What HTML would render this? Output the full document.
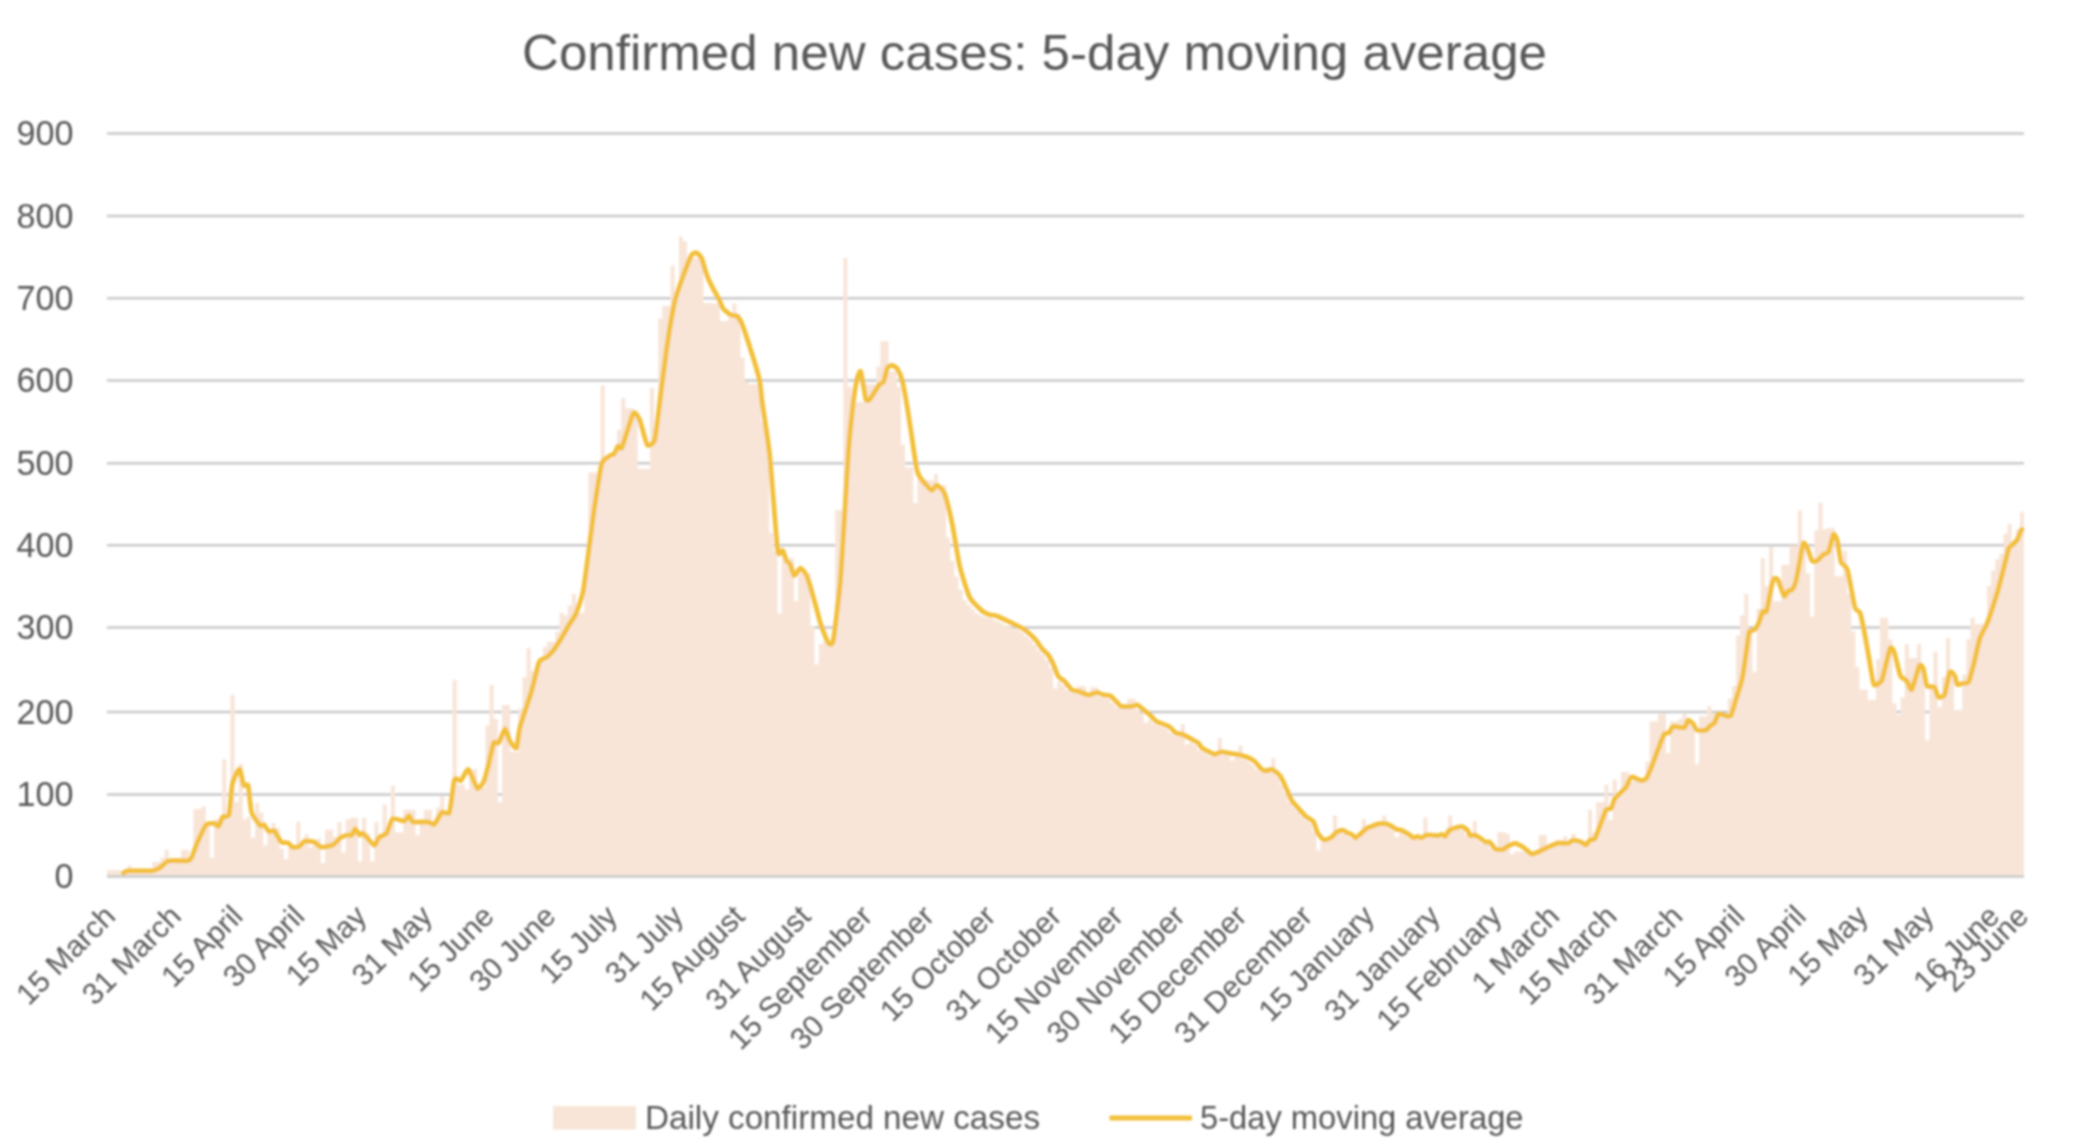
<!DOCTYPE html><html><head><meta charset="utf-8"><style>html,body{margin:0;padding:0;background:#fff;width:2076px;height:1148px;overflow:hidden}svg{display:block}text{font-family:"Liberation Sans",sans-serif;fill:#595959}</style></head><body>
<svg width="2076" height="1148" viewBox="0 0 2076 1148">
<rect width="2076" height="1148" fill="#fff"/>
<defs><filter id="blurf" x="-1%" y="-1%" width="102%" height="102%"><feGaussianBlur stdDeviation="1.0"/></filter></defs><g filter="url(#blurf)">
<line x1="107.0" y1="794.60" x2="2024.0" y2="794.60" stroke="#C9C9C9" stroke-width="2.5"/>
<line x1="107.0" y1="712.00" x2="2024.0" y2="712.00" stroke="#C9C9C9" stroke-width="2.5"/>
<line x1="107.0" y1="627.60" x2="2024.0" y2="627.60" stroke="#C9C9C9" stroke-width="2.5"/>
<line x1="107.0" y1="545.20" x2="2024.0" y2="545.20" stroke="#C9C9C9" stroke-width="2.5"/>
<line x1="107.0" y1="463.20" x2="2024.0" y2="463.20" stroke="#C9C9C9" stroke-width="2.5"/>
<line x1="107.0" y1="380.40" x2="2024.0" y2="380.40" stroke="#C9C9C9" stroke-width="2.5"/>
<line x1="107.0" y1="298.30" x2="2024.0" y2="298.30" stroke="#C9C9C9" stroke-width="2.5"/>
<line x1="107.0" y1="216.00" x2="2024.0" y2="216.00" stroke="#C9C9C9" stroke-width="2.5"/>
<line x1="107.0" y1="133.50" x2="2024.0" y2="133.50" stroke="#C9C9C9" stroke-width="2.5"/>
<path d="M107.00 876.60 L107.00 870.24 L111.11 870.24 L111.11 870.24 L115.23 870.24 L115.23 870.24 L119.34 870.24 L119.34 870.24 L123.45 870.24 L123.45 870.77 L127.57 870.77 L127.57 865.54 L131.68 865.54 L131.68 869.02 L135.80 869.02 L135.80 869.02 L139.91 869.02 L139.91 869.02 L144.02 869.02 L144.02 869.02 L148.14 869.02 L148.14 869.02 L152.25 869.02 L152.25 862.06 L156.36 862.06 L156.36 862.06 L160.48 862.06 L160.48 857.70 L164.59 857.70 L164.59 849.86 L168.71 849.86 L168.71 861.18 L172.82 861.18 L172.82 861.18 L176.93 861.18 L176.93 861.18 L181.05 861.18 L181.05 849.86 L185.16 849.86 L185.16 849.86 L189.27 849.86 L189.27 859.44 L193.39 859.44 L193.39 808.92 L197.50 808.92 L197.50 808.92 L201.62 808.92 L201.62 806.31 L205.73 806.31 L205.73 824.60 L209.84 824.60 L209.84 857.70 L213.96 857.70 L213.96 819.37 L218.07 819.37 L218.07 819.37 L222.18 819.37 L222.18 759.27 L226.30 759.27 L226.30 819.37 L230.41 819.37 L230.41 694.81 L234.53 694.81 L234.53 801.95 L238.64 801.95 L238.64 763.62 L242.75 763.62 L242.75 819.37 L246.87 819.37 L246.87 816.76 L250.98 816.76 L250.98 837.67 L255.09 837.67 L255.09 802.82 L259.21 802.82 L259.21 812.40 L263.32 812.40 L263.32 845.51 L267.44 845.51 L267.44 831.48 L271.55 831.48 L271.55 822.86 L275.66 822.86 L275.66 828.08 L279.78 828.08 L279.78 848.99 L283.89 848.99 L283.89 859.44 L288.00 859.44 L288.00 847.25 L292.12 847.25 L292.12 847.25 L296.23 847.25 L296.23 821.99 L300.35 821.99 L300.35 847.25 L304.46 847.25 L304.46 834.18 L308.57 834.18 L308.57 847.25 L312.69 847.25 L312.69 842.02 L316.80 842.02 L316.80 838.54 L320.91 838.54 L320.91 862.93 L325.03 862.93 L325.03 829.83 L329.14 829.83 L329.14 829.83 L333.26 829.83 L333.26 836.79 L337.37 836.79 L337.37 821.99 L341.48 821.99 L341.48 852.47 L345.60 852.47 L345.60 819.37 L349.71 819.37 L349.71 817.63 L353.82 817.63 L353.82 817.63 L357.94 817.63 L357.94 861.18 L362.05 861.18 L362.05 817.63 L366.17 817.63 L366.17 833.31 L370.28 833.31 L370.28 861.18 L374.39 861.18 L374.39 821.99 L378.51 821.99 L378.51 836.79 L382.62 836.79 L382.62 804.56 L386.73 804.56 L386.73 831.57 L390.85 831.57 L390.85 785.78 L394.96 785.78 L394.96 832.51 L399.08 832.51 L399.08 832.51 L403.19 832.51 L403.19 809.77 L407.30 809.77 L407.30 809.77 L411.42 809.77 L411.42 809.77 L415.53 809.77 L415.53 835.03 L419.64 835.03 L419.64 821.90 L423.76 821.90 L423.76 809.77 L427.87 809.77 L427.87 809.77 L431.98 809.77 L431.98 824.32 L436.10 824.32 L436.10 807.25 L440.21 807.25 L440.21 795.88 L444.33 795.88 L444.33 812.30 L448.44 812.30 L448.44 812.30 L452.55 812.30 L452.55 679.68 L456.67 679.68 L456.67 784.51 L460.78 784.51 L460.78 784.51 L464.89 784.51 L464.89 789.56 L469.01 789.56 L469.01 769.36 L473.12 769.36 L473.12 769.36 L477.24 769.36 L477.24 787.04 L481.35 787.04 L481.35 787.04 L485.46 787.04 L485.46 725.15 L489.58 725.15 L489.58 684.73 L493.69 684.73 L493.69 718.83 L497.80 718.83 L497.80 802.20 L501.92 802.20 L501.92 704.94 L506.03 704.94 L506.03 704.94 L510.15 704.94 L510.15 751.67 L514.26 751.67 L514.26 751.67 L518.37 751.67 L518.37 708.73 L522.49 708.73 L522.49 677.15 L526.60 677.15 L526.60 648.10 L530.71 648.10 L530.71 670.84 L534.83 670.84 L534.83 670.84 L538.94 670.84 L538.94 658.21 L543.06 658.21 L543.06 646.84 L547.17 646.84 L547.17 641.79 L551.28 641.79 L551.28 641.79 L555.40 641.79 L555.40 631.68 L559.51 631.68 L559.51 612.74 L563.62 612.74 L563.62 615.26 L567.74 615.26 L567.74 605.16 L571.85 605.16 L571.85 593.79 L575.97 593.79 L575.97 612.74 L580.08 612.74 L580.08 612.74 L584.19 612.74 L584.19 568.44 L588.31 568.44 L588.31 472.61 L592.42 472.61 L592.42 472.61 L596.53 472.61 L596.53 472.61 L600.65 472.61 L600.65 385.46 L604.76 385.46 L604.76 458.72 L608.88 458.72 L608.88 458.72 L612.99 458.72 L612.99 452.20 L617.10 452.20 L617.10 429.67 L621.22 429.67 L621.22 398.09 L625.33 398.09 L625.33 408.20 L629.44 408.20 L629.44 408.20 L633.56 408.20 L633.56 411.99 L637.67 411.99 L637.67 468.82 L641.79 468.82 L641.79 468.82 L645.90 468.82 L645.90 468.82 L650.01 468.82 L650.01 387.99 L654.13 387.99 L654.13 428.73 L658.24 428.73 L658.24 318.52 L662.35 318.52 L662.35 305.89 L666.47 305.89 L666.47 305.89 L670.58 305.89 L670.58 265.47 L674.70 265.47 L674.70 295.40 L678.81 295.40 L678.81 236.42 L682.92 236.42 L682.92 241.47 L687.04 241.47 L687.04 257.89 L691.15 257.89 L691.15 257.89 L695.26 257.89 L695.26 257.89 L699.38 257.89 L699.38 257.89 L703.49 257.89 L703.49 303.36 L707.61 303.36 L707.61 303.36 L711.72 303.36 L711.72 303.36 L715.83 303.36 L715.83 303.36 L719.95 303.36 L719.95 321.05 L724.06 321.05 L724.06 321.05 L728.17 321.05 L728.17 313.47 L732.29 313.47 L732.29 303.36 L736.40 303.36 L736.40 313.47 L740.52 313.47 L740.52 357.67 L744.63 357.67 L744.63 381.67 L748.74 381.67 L748.74 384.20 L752.86 384.20 L752.86 384.20 L756.97 384.20 L756.97 384.20 L761.08 384.20 L761.08 422.09 L765.20 422.09 L765.20 438.03 L769.31 438.03 L769.31 532.84 L773.42 532.84 L773.42 550.52 L777.54 550.52 L777.54 613.68 L781.65 613.68 L781.65 558.10 L785.77 558.10 L785.77 558.10 L789.88 558.10 L789.88 558.10 L793.99 558.10 L793.99 601.05 L798.11 601.05 L798.11 573.26 L802.22 573.26 L802.22 573.26 L806.33 573.26 L806.33 573.26 L810.45 573.26 L810.45 626.31 L814.56 626.31 L814.56 664.20 L818.68 664.20 L818.68 643.99 L822.79 643.99 L822.79 641.46 L826.90 641.46 L826.90 641.46 L831.02 641.46 L831.02 641.46 L835.13 641.46 L835.13 510.10 L839.24 510.10 L839.24 510.10 L843.36 510.10 L843.36 257.89 L847.47 257.89 L847.47 386.72 L851.59 386.72 L851.59 401.88 L855.70 401.88 L855.70 401.88 L859.81 401.88 L859.81 401.88 L863.93 401.88 L863.93 384.20 L868.04 384.20 L868.04 384.20 L872.15 384.20 L872.15 384.20 L876.27 384.20 L876.27 366.52 L880.38 366.52 L880.38 341.25 L884.50 341.25 L884.50 341.25 L888.61 341.25 L888.61 371.57 L892.72 371.57 L892.72 371.57 L896.84 371.57 L896.84 386.72 L900.95 386.72 L900.95 444.83 L905.06 444.83 L905.06 467.56 L909.18 467.56 L909.18 467.56 L913.29 467.56 L913.29 502.93 L917.41 502.93 L917.41 480.19 L921.52 480.19 L921.52 480.19 L925.63 480.19 L925.63 480.19 L929.75 480.19 L929.75 480.19 L933.86 480.19 L933.86 473.88 L937.97 473.88 L937.97 485.24 L942.09 485.24 L942.09 485.24 L946.20 485.24 L946.20 537.61 L950.32 537.61 L950.32 560.92 L954.43 560.92 L954.43 576.81 L958.54 576.81 L958.54 589.66 L962.66 589.66 L962.66 600.41 L966.77 600.41 L966.77 604.93 L970.88 604.93 L970.88 609.46 L975.00 609.46 L975.00 613.53 L979.11 613.53 L979.11 615.58 L983.23 615.58 L983.23 617.17 L987.34 617.17 L987.34 617.86 L991.45 617.86 L991.45 619.22 L995.57 619.22 L995.57 621.25 L999.68 621.25 L999.68 623.28 L1003.79 623.28 L1003.79 625.31 L1007.91 625.31 L1007.91 627.34 L1012.02 627.34 L1012.02 629.38 L1016.14 629.38 L1016.14 629.93 L1020.25 629.93 L1020.25 632.51 L1024.36 632.51 L1024.36 636.17 L1028.48 636.17 L1028.48 639.83 L1032.59 639.83 L1032.59 644.70 L1036.70 644.70 L1036.70 650.39 L1040.82 650.39 L1040.82 654.50 L1044.93 654.50 L1044.93 660.19 L1049.05 660.19 L1049.05 668.26 L1053.16 668.26 L1053.16 688.62 L1057.27 688.62 L1057.27 681.46 L1061.39 681.46 L1061.39 685.53 L1065.50 685.53 L1065.50 690.33 L1069.61 690.33 L1069.61 692.44 L1073.73 692.44 L1073.73 693.37 L1077.84 693.37 L1077.84 686.10 L1081.95 686.10 L1081.95 686.10 L1086.07 686.10 L1086.07 696.13 L1090.18 696.13 L1090.18 687.36 L1094.30 687.36 L1094.30 687.36 L1098.41 687.36 L1098.41 696.94 L1102.52 696.94 L1102.52 697.62 L1106.64 697.62 L1106.64 698.85 L1110.75 698.85 L1110.75 702.96 L1114.86 702.96 L1114.86 707.08 L1118.98 707.08 L1118.98 708.31 L1123.09 708.31 L1123.09 708.31 L1127.21 708.31 L1127.21 698.73 L1131.32 698.73 L1131.32 698.73 L1135.43 698.73 L1135.43 709.38 L1139.55 709.38 L1139.55 712.67 L1143.66 712.67 L1143.66 722.73 L1147.77 722.73 L1147.77 719.78 L1151.89 719.78 L1151.89 723.64 L1156.00 723.64 L1156.00 725.28 L1160.12 725.28 L1160.12 726.93 L1164.23 726.93 L1164.23 728.66 L1168.34 728.66 L1168.34 732.77 L1172.46 732.77 L1172.46 735.24 L1176.57 735.24 L1176.57 736.06 L1180.68 736.06 L1180.68 723.99 L1184.80 723.99 L1184.80 744.20 L1188.91 744.20 L1188.91 742.52 L1193.03 742.52 L1193.03 744.87 L1197.14 744.87 L1197.14 750.09 L1201.25 750.09 L1201.25 752.15 L1205.37 752.15 L1205.37 754.21 L1209.48 754.21 L1209.48 756.26 L1213.59 756.26 L1213.59 754.69 L1217.71 754.69 L1217.71 737.88 L1221.82 737.88 L1221.82 754.83 L1225.94 754.83 L1225.94 755.57 L1230.05 755.57 L1230.05 760.62 L1234.16 760.62 L1234.16 757.01 L1238.28 757.01 L1238.28 745.46 L1242.39 745.46 L1242.39 759.81 L1246.50 759.81 L1246.50 761.64 L1250.62 761.64 L1250.62 764.72 L1254.73 764.72 L1254.73 769.27 L1258.85 769.27 L1258.85 771.66 L1262.96 771.66 L1262.96 772.53 L1267.07 772.53 L1267.07 771.71 L1271.19 771.71 L1271.19 758.33 L1275.30 758.33 L1275.30 777.25 L1279.41 777.25 L1279.41 784.76 L1283.53 784.76 L1283.53 793.33 L1287.64 793.33 L1287.64 802.58 L1291.76 802.58 L1291.76 807.34 L1295.87 807.34 L1295.87 811.86 L1299.98 811.86 L1299.98 816.32 L1304.10 816.32 L1304.10 819.92 L1308.21 819.92 L1308.21 822.91 L1312.32 822.91 L1312.32 831.65 L1316.44 831.65 L1316.44 850.31 L1320.55 850.31 L1320.55 841.64 L1324.67 841.64 L1324.67 840.40 L1328.78 840.40 L1328.78 837.77 L1332.89 837.77 L1332.89 815.47 L1337.01 815.47 L1337.01 832.64 L1341.12 832.64 L1341.12 833.53 L1345.23 833.53 L1345.23 835.47 L1349.35 835.47 L1349.35 837.95 L1353.46 837.95 L1353.46 838.13 L1357.58 838.13 L1357.58 834.91 L1361.69 834.91 L1361.69 818.95 L1365.80 818.95 L1365.80 828.97 L1369.92 828.97 L1369.92 827.43 L1374.03 827.43 L1374.03 825.88 L1378.14 825.88 L1378.14 825.83 L1382.26 825.83 L1382.26 815.47 L1386.37 815.47 L1386.37 827.75 L1390.48 827.75 L1390.48 830.21 L1394.60 830.21 L1394.60 837.07 L1398.71 837.07 L1398.71 833.23 L1402.83 833.23 L1402.83 835.28 L1406.94 835.28 L1406.94 837.93 L1411.05 837.93 L1411.05 839.23 L1415.17 839.23 L1415.17 839.04 L1419.28 839.04 L1419.28 838.82 L1423.39 838.82 L1423.39 817.56 L1427.51 817.56 L1427.51 837.27 L1431.62 837.27 L1431.62 837.52 L1435.74 837.52 L1435.74 837.02 L1439.85 837.02 L1439.85 837.65 L1443.96 837.65 L1443.96 834.03 L1448.08 834.03 L1448.08 815.47 L1452.19 815.47 L1452.19 829.74 L1456.30 829.74 L1456.30 828.92 L1460.42 828.92 L1460.42 830.26 L1464.53 830.26 L1464.53 834.44 L1468.65 834.44 L1468.65 837.26 L1472.76 837.26 L1472.76 821.05 L1476.87 821.05 L1476.87 840.72 L1480.99 840.72 L1480.99 843.60 L1485.10 843.60 L1485.10 843.95 L1489.21 843.95 L1489.21 848.39 L1493.33 848.39 L1493.33 851.13 L1497.44 851.13 L1497.44 832.20 L1501.56 832.20 L1501.56 832.20 L1505.67 832.20 L1505.67 833.77 L1509.78 833.77 L1509.78 853.98 L1513.90 853.98 L1513.90 851.45 L1518.01 851.45 L1518.01 851.45 L1522.12 851.45 L1522.12 851.45 L1526.24 851.45 L1526.24 851.45 L1530.35 851.45 L1530.35 851.45 L1534.47 851.45 L1534.47 851.45 L1538.58 851.45 L1538.58 835.03 L1542.69 835.03 L1542.69 835.03 L1546.81 835.03 L1546.81 845.14 L1550.92 845.14 L1550.92 845.14 L1555.03 845.14 L1555.03 840.09 L1559.15 840.09 L1559.15 845.14 L1563.26 845.14 L1563.26 836.30 L1567.38 836.30 L1567.38 842.61 L1571.49 842.61 L1571.49 833.77 L1575.60 833.77 L1575.60 842.61 L1579.72 842.61 L1579.72 842.61 L1583.83 842.61 L1583.83 842.61 L1587.94 842.61 L1587.94 809.77 L1592.06 809.77 L1592.06 832.51 L1596.17 832.51 L1596.17 802.20 L1600.29 802.20 L1600.29 802.20 L1604.40 802.20 L1604.40 784.51 L1608.51 784.51 L1608.51 819.88 L1612.63 819.88 L1612.63 779.46 L1616.74 779.46 L1616.74 792.09 L1620.85 792.09 L1620.85 771.88 L1624.97 771.88 L1624.97 771.88 L1629.08 771.88 L1629.08 781.99 L1633.20 781.99 L1633.20 779.46 L1637.31 779.46 L1637.31 779.46 L1641.42 779.46 L1641.42 779.46 L1645.54 779.46 L1645.54 761.78 L1649.65 761.78 L1649.65 721.36 L1653.76 721.36 L1653.76 721.36 L1657.88 721.36 L1657.88 713.78 L1661.99 713.78 L1661.99 713.78 L1666.11 713.78 L1666.11 752.94 L1670.22 752.94 L1670.22 721.36 L1674.33 721.36 L1674.33 721.36 L1678.45 721.36 L1678.45 718.83 L1682.56 718.83 L1682.56 713.78 L1686.67 713.78 L1686.67 723.89 L1690.79 723.89 L1690.79 723.89 L1694.90 723.89 L1694.90 764.30 L1699.02 764.30 L1699.02 716.31 L1703.13 716.31 L1703.13 716.31 L1707.24 716.31 L1707.24 706.20 L1711.36 706.20 L1711.36 713.78 L1715.47 713.78 L1715.47 713.78 L1719.58 713.78 L1719.58 713.78 L1723.70 713.78 L1723.70 713.78 L1727.81 713.78 L1727.81 698.62 L1731.92 698.62 L1731.92 685.99 L1736.04 685.99 L1736.04 635.47 L1740.15 635.47 L1740.15 615.26 L1744.27 615.26 L1744.27 593.79 L1748.38 593.79 L1748.38 631.57 L1752.49 631.57 L1752.49 671.99 L1756.61 671.99 L1756.61 608.83 L1760.72 608.83 L1760.72 558.31 L1764.83 558.31 L1764.83 586.10 L1768.95 586.10 L1768.95 546.94 L1773.06 546.94 L1773.06 601.25 L1777.18 601.25 L1777.18 601.25 L1781.29 601.25 L1781.29 564.63 L1785.40 564.63 L1785.40 564.63 L1789.52 564.63 L1789.52 545.68 L1793.63 545.68 L1793.63 545.68 L1797.74 545.68 L1797.74 510.31 L1801.86 510.31 L1801.86 543.92 L1805.97 543.92 L1805.97 573.47 L1810.09 573.47 L1810.09 616.41 L1814.20 616.41 L1814.20 530.52 L1818.31 530.52 L1818.31 502.74 L1822.43 502.74 L1822.43 529.26 L1826.54 529.26 L1826.54 528.00 L1830.65 528.00 L1830.65 528.00 L1834.77 528.00 L1834.77 575.99 L1838.88 575.99 L1838.88 575.99 L1843.00 575.99 L1843.00 550.73 L1847.11 550.73 L1847.11 593.68 L1851.22 593.68 L1851.22 631.57 L1855.34 631.57 L1855.34 666.93 L1859.45 666.93 L1859.45 689.67 L1863.56 689.67 L1863.56 689.67 L1867.68 689.67 L1867.68 699.77 L1871.79 699.77 L1871.79 699.77 L1875.91 699.77 L1875.91 659.36 L1880.02 659.36 L1880.02 617.67 L1884.13 617.67 L1884.13 617.67 L1888.25 617.67 L1888.25 639.15 L1892.36 639.15 L1892.36 703.56 L1896.47 703.56 L1896.47 714.93 L1900.59 714.93 L1900.59 697.25 L1904.70 697.25 L1904.70 644.20 L1908.82 644.20 L1908.82 658.09 L1912.93 658.09 L1912.93 658.09 L1917.04 658.09 L1917.04 644.20 L1921.16 644.20 L1921.16 671.99 L1925.27 671.99 L1925.27 740.19 L1929.38 740.19 L1929.38 687.14 L1933.50 687.14 L1933.50 651.78 L1937.61 651.78 L1937.61 707.35 L1941.73 707.35 L1941.73 677.04 L1945.84 677.04 L1945.84 637.88 L1949.95 637.88 L1949.95 671.99 L1954.07 671.99 L1954.07 709.88 L1958.18 709.88 L1958.18 709.88 L1962.29 709.88 L1962.29 674.51 L1966.41 674.51 L1966.41 639.15 L1970.52 639.15 L1970.52 617.67 L1974.64 617.67 L1974.64 623.99 L1978.75 623.99 L1978.75 623.99 L1982.86 623.99 L1982.86 623.99 L1986.98 623.99 L1986.98 586.10 L1991.09 586.10 L1991.09 570.59 L1995.20 570.59 L1995.20 559.44 L1999.32 559.44 L1999.32 553.87 L2003.43 553.87 L2003.43 533.66 L2007.55 533.66 L2007.55 523.90 L2011.66 523.90 L2011.66 546.90 L2015.77 546.90 L2015.77 529.48 L2019.89 529.48 L2019.89 512.06 L2024.00 512.06 L2024.00 876.60 Z" fill="#F8E5D8"/>
<line x1="107.0" y1="876.60" x2="2024.0" y2="876.60" stroke="#C9C9C9" stroke-width="2.5"/>
<path d="M123.5 873.0 C123.9 872.8 125.3 871.0 127.9 870.8 C130.5 870.6 149.4 871.0 152.3 870.8 C155.1 870.5 157.7 869.0 159.2 868.2 C160.7 867.3 166.3 861.5 168.8 860.8 C171.3 860.2 185.1 861.1 187.1 860.8 C189.1 860.6 190.5 859.4 191.5 857.7 C192.4 856.0 196.2 845.0 197.6 842.0 C198.9 839.0 204.7 826.2 206.3 824.6 C207.8 823.0 213.9 823.6 215.0 823.7 C216.1 823.9 217.8 827.0 218.5 826.3 C219.2 825.7 221.9 817.8 222.8 816.8 C223.8 815.7 228.1 818.0 228.9 815.0 C229.8 812.0 231.5 787.8 232.4 783.7 C233.3 779.5 238.4 768.7 239.4 768.9 C240.4 769.0 242.9 783.9 243.7 785.4 C244.5 786.9 247.4 783.0 248.1 785.4 C248.8 787.8 250.5 808.8 251.6 812.4 C252.7 816.0 259.2 824.4 260.3 825.5 C261.4 826.6 263.0 824.1 263.8 824.6 C264.5 825.1 268.0 831.0 269.0 831.6 C269.9 832.1 273.1 829.8 274.2 830.7 C275.3 831.6 279.9 840.9 281.2 842.0 C282.4 843.1 287.1 842.4 288.2 842.9 C289.2 843.4 291.5 846.9 292.5 847.2 C293.5 847.6 298.4 846.9 299.5 846.4 C300.6 845.8 303.4 841.5 304.7 841.1 C306.0 840.8 312.8 841.5 314.3 842.0 C315.8 842.6 319.5 847.0 321.3 847.2 C323.0 847.5 331.7 845.5 333.4 844.6 C335.2 843.8 339.2 838.5 340.4 837.7 C341.7 836.8 346.4 835.3 347.4 835.1 C348.4 834.8 351.0 835.6 351.7 835.1 C352.4 834.5 354.5 829.0 355.2 829.0 C355.9 829.0 358.9 834.7 359.6 835.1 C360.3 835.4 361.7 832.4 363.1 833.3 C364.4 834.3 373.0 845.1 374.4 845.5 C375.8 845.9 377.6 838.8 378.7 837.7 C379.8 836.6 385.3 835.0 386.6 833.3 C387.8 831.6 391.1 819.7 392.6 818.6 C394.2 817.5 402.5 821.4 404.0 821.1 C405.5 820.9 408.3 815.5 409.1 815.6 C409.8 815.7 411.1 821.3 412.8 821.9 C414.5 822.5 426.1 821.7 428.0 821.9 C429.9 822.1 433.1 825.3 434.3 824.4 C435.6 823.6 440.5 813.4 441.9 812.3 C443.3 811.2 448.3 815.3 449.5 812.3 C450.6 809.3 453.5 782.3 454.5 779.5 C455.5 776.6 459.6 781.6 460.8 780.7 C462.1 779.8 466.9 768.7 468.4 769.4 C469.9 770.0 475.9 787.2 477.3 788.3 C478.6 789.4 482.5 784.1 483.6 782.0 C484.6 779.8 487.7 767.8 488.6 764.3 C489.5 760.8 492.8 744.8 493.7 742.8 C494.6 740.9 497.7 744.1 498.7 742.8 C499.8 741.6 504.0 729.1 505.0 728.9 C506.1 728.8 509.1 739.9 510.1 741.6 C511.1 743.3 515.5 749.2 516.4 747.9 C517.3 746.5 518.8 731.5 520.2 726.4 C521.6 721.3 529.9 696.8 531.6 691.0 C533.3 685.2 537.7 665.1 539.1 662.0 C540.6 658.9 546.4 657.7 548.0 656.2 C549.6 654.7 554.9 648.5 556.8 645.6 C558.8 642.7 567.8 626.9 569.5 624.1 C571.2 621.3 574.5 617.1 575.8 614.0 C577.0 610.9 581.7 599.4 583.4 590.0 C585.0 580.6 592.5 521.4 594.1 510.0 C595.8 498.6 600.3 468.6 601.7 463.8 C603.0 458.9 608.1 457.1 609.3 456.2 C610.4 455.3 613.5 454.6 614.3 453.7 C615.1 452.8 617.4 446.7 618.1 446.1 C618.8 445.5 620.5 450.3 621.9 447.4 C623.3 444.4 631.7 415.7 633.3 413.2 C634.8 410.7 638.3 416.7 639.6 419.6 C640.8 422.4 645.8 443.0 647.2 444.8 C648.5 446.6 653.5 444.5 654.7 439.8 C656.0 435.0 659.9 400.4 661.0 391.8 C662.2 383.1 666.1 352.0 667.4 343.8 C668.6 335.6 673.5 307.1 674.9 300.8 C676.4 294.6 682.3 278.4 683.8 274.3 C685.3 270.2 690.2 257.3 691.4 255.4 C692.5 253.4 695.5 252.6 696.4 252.8 C697.3 253.1 700.6 256.0 701.5 257.9 C702.4 259.8 705.6 271.8 706.5 274.3 C707.4 276.8 710.4 283.4 711.6 285.7 C712.7 288.0 718.1 297.5 719.1 299.6 C720.2 301.6 721.9 307.1 722.9 308.4 C724.0 309.8 729.3 314.0 730.5 314.7 C731.8 315.4 735.8 315.2 736.8 316.0 C737.9 316.8 740.5 320.2 741.9 323.6 C743.2 327.0 750.4 348.8 752.0 353.9 C753.6 359.0 758.7 376.1 759.6 380.4 C760.5 384.7 761.2 395.2 762.1 401.9 C763.0 408.6 768.3 441.6 769.7 454.9 C771.1 468.3 776.5 541.9 777.7 550.5 C778.9 559.1 781.9 549.6 782.7 550.5 C783.5 551.4 785.8 559.4 786.5 560.6 C787.2 561.9 789.6 563.1 790.3 564.4 C791.0 565.8 793.2 575.4 794.1 575.8 C795.0 576.1 799.3 568.2 800.4 568.2 C801.6 568.2 805.6 573.3 806.7 575.8 C807.9 578.3 811.8 591.7 813.0 596.0 C814.3 600.3 819.3 619.6 820.6 623.8 C822.0 628.0 827.1 641.2 828.2 642.7 C829.3 644.2 832.1 646.2 833.3 640.2 C834.4 634.2 839.5 592.5 840.8 575.8 C842.2 559.1 847.1 470.6 848.2 454.9 C849.3 439.3 852.5 408.7 853.3 401.9 C854.1 395.1 856.4 381.9 857.0 379.1 C857.7 376.4 860.0 369.7 860.8 371.6 C861.6 373.4 865.1 396.9 865.9 399.4 C866.7 401.9 868.9 400.0 869.7 399.4 C870.5 398.7 873.8 393.1 874.7 391.8 C875.6 390.4 879.0 385.1 879.8 384.2 C880.6 383.3 882.9 383.2 883.6 381.7 C884.3 380.2 886.6 369.3 887.4 367.8 C888.2 366.3 891.5 365.1 892.4 365.3 C893.3 365.4 896.6 367.6 897.5 369.0 C898.4 370.5 901.5 377.4 902.5 381.7 C903.5 386.0 907.6 409.3 908.8 417.0 C910.1 424.8 915.4 462.1 916.4 467.6 C917.4 473.0 918.8 475.6 920.2 477.7 C921.6 479.7 930.1 489.6 931.6 490.3 C933.0 491.0 935.5 485.0 936.6 485.2 C937.8 485.5 942.8 489.4 944.2 492.8 C945.6 496.2 950.6 516.2 952.0 522.7 C953.4 529.3 958.0 559.0 959.6 565.7 C961.2 572.4 967.6 593.2 969.7 597.3 C971.7 601.3 980.5 609.6 982.3 611.1 C984.1 612.7 988.5 614.5 989.9 614.9 C991.2 615.4 994.4 614.9 997.5 616.2 C1000.5 617.5 1020.5 627.2 1023.9 629.3 C1027.3 631.3 1033.7 637.7 1035.3 639.4 C1036.9 641.1 1040.4 646.8 1041.6 648.2 C1042.7 649.6 1046.9 653.2 1047.9 654.5 C1048.9 655.9 1052.0 661.4 1052.9 663.4 C1053.9 665.3 1057.0 674.4 1058.0 676.0 C1059.0 677.6 1063.1 679.8 1064.3 681.0 C1065.6 682.3 1070.6 689.0 1071.9 689.9 C1073.1 690.8 1076.7 690.7 1078.2 691.1 C1079.7 691.6 1086.6 694.8 1088.3 694.9 C1090.0 695.1 1095.8 692.4 1097.2 692.4 C1098.5 692.4 1102.2 694.6 1103.5 694.9 C1104.7 695.3 1109.5 695.2 1111.0 696.2 C1112.6 697.2 1119.3 705.4 1121.1 706.3 C1123.0 707.2 1129.8 706.4 1131.3 706.3 C1132.7 706.2 1136.4 704.7 1137.6 705.0 C1138.7 705.4 1142.7 709.2 1143.9 710.1 C1145.0 711.0 1149.1 714.1 1150.2 715.1 C1151.3 716.2 1154.8 720.4 1156.5 721.5 C1158.2 722.5 1167.4 725.5 1169.1 726.5 C1170.9 727.5 1174.3 732.1 1175.5 732.8 C1176.6 733.5 1180.5 733.6 1181.8 734.1 C1183.0 734.5 1187.9 737.1 1189.4 737.9 C1190.8 738.7 1197.1 742.0 1198.2 742.9 C1199.3 743.8 1200.5 747.0 1202.0 748.0 C1203.5 749.0 1212.9 754.0 1214.6 754.3 C1216.3 754.6 1219.3 751.8 1220.9 751.8 C1222.5 751.7 1230.4 753.5 1232.3 753.8 C1234.2 754.1 1240.5 755.0 1242.4 755.6 C1244.3 756.2 1252.1 759.4 1253.8 760.6 C1255.5 761.8 1260.1 767.9 1261.1 768.8 C1262.2 769.7 1264.3 770.8 1265.3 770.9 C1266.3 770.9 1271.0 769.0 1272.3 769.5 C1273.6 769.9 1278.7 774.1 1280.0 775.7 C1281.2 777.4 1285.2 786.0 1286.2 788.3 C1287.3 790.6 1290.8 799.1 1291.8 800.8 C1292.8 802.5 1296.1 805.7 1297.4 807.1 C1298.6 808.5 1304.3 814.9 1305.7 816.2 C1307.2 817.5 1312.3 820.2 1313.4 821.7 C1314.5 823.2 1316.7 831.3 1317.6 832.9 C1318.5 834.5 1322.7 839.4 1323.9 839.9 C1325.1 840.3 1329.7 838.5 1330.8 837.8 C1332.0 837.1 1335.3 832.9 1336.4 832.2 C1337.5 831.5 1341.7 830.0 1342.7 830.1 C1343.7 830.2 1346.7 832.5 1347.6 832.9 C1348.4 833.3 1351.1 833.8 1351.7 834.3 C1352.4 834.7 1354.5 837.8 1355.2 837.8 C1356.0 837.8 1359.0 835.2 1360.1 834.3 C1361.2 833.4 1365.9 828.8 1367.1 828.0 C1368.2 827.3 1371.6 826.3 1372.6 825.9 C1373.7 825.5 1377.0 824.0 1378.2 823.8 C1379.5 823.6 1385.3 823.6 1386.6 823.8 C1387.8 824.1 1391.3 826.1 1392.2 826.6 C1393.0 827.1 1395.6 829.1 1396.3 829.4 C1397.1 829.7 1399.5 829.7 1400.5 830.1 C1401.5 830.5 1406.3 832.9 1407.5 833.6 C1408.7 834.3 1412.9 837.5 1413.8 837.8 C1414.6 838.0 1416.6 836.4 1417.2 836.4 C1417.9 836.4 1420.6 837.9 1421.4 837.8 C1422.3 837.6 1425.5 835.2 1427.0 835.0 C1428.5 834.8 1436.8 835.7 1438.2 835.7 C1439.5 835.6 1441.0 834.2 1441.6 834.3 C1442.3 834.3 1444.4 836.8 1445.1 836.4 C1445.8 836.0 1448.4 830.9 1449.3 830.1 C1450.2 829.4 1453.7 828.3 1454.9 828.0 C1456.0 827.7 1460.7 826.4 1461.8 826.6 C1463.0 826.8 1466.7 829.3 1467.4 830.1 C1468.2 830.9 1469.6 835.2 1470.2 835.7 C1470.8 836.1 1473.6 834.9 1474.4 835.0 C1475.1 835.1 1477.6 836.4 1478.6 837.1 C1479.6 837.7 1484.5 841.5 1485.5 842.0 C1486.5 842.4 1488.8 841.3 1489.7 842.0 C1490.6 842.6 1494.2 848.2 1495.3 848.9 C1496.4 849.6 1501.0 849.9 1502.3 849.6 C1503.5 849.3 1507.7 846.2 1508.8 845.6 C1510.0 845.1 1513.8 843.2 1515.2 843.4 C1516.5 843.6 1522.5 846.7 1524.0 847.7 C1525.5 848.6 1530.1 853.7 1531.6 854.0 C1533.1 854.3 1539.1 851.5 1540.4 850.9 C1541.8 850.4 1545.1 848.4 1546.7 847.7 C1548.3 847.0 1556.2 843.5 1558.1 843.1 C1560.0 842.7 1566.8 843.6 1568.2 843.4 C1569.6 843.1 1572.1 840.2 1573.3 840.1 C1574.4 840.0 1579.7 841.4 1580.8 841.9 C1582.0 842.3 1585.1 845.3 1585.9 845.1 C1586.7 845.0 1588.9 840.7 1589.7 840.1 C1590.5 839.5 1593.8 840.1 1594.7 838.8 C1595.6 837.6 1598.8 828.8 1599.8 826.2 C1600.8 823.6 1605.1 811.4 1606.1 809.8 C1607.1 808.2 1610.4 809.5 1611.1 808.5 C1611.9 807.5 1613.8 800.1 1614.9 798.4 C1616.1 796.7 1622.8 790.6 1623.8 789.6 C1624.8 788.5 1625.6 788.2 1626.3 787.0 C1627.0 785.9 1630.0 777.5 1631.4 776.9 C1632.7 776.4 1640.1 780.6 1641.5 780.7 C1642.8 780.8 1645.6 779.4 1646.5 778.2 C1647.4 776.9 1650.4 769.7 1651.6 766.8 C1652.7 764.0 1658.0 749.6 1659.1 746.6 C1660.3 743.7 1663.3 735.2 1664.2 734.0 C1665.1 732.7 1668.5 733.4 1669.3 732.7 C1670.0 732.0 1671.7 726.9 1673.0 726.4 C1674.4 726.0 1683.0 728.2 1684.4 727.7 C1685.8 727.1 1687.4 720.4 1688.2 720.1 C1689.0 719.8 1692.5 723.0 1693.2 723.9 C1694.0 724.8 1695.9 729.6 1697.0 730.2 C1698.2 730.8 1704.7 730.5 1705.9 730.2 C1707.0 729.9 1708.9 727.1 1709.7 726.4 C1710.5 725.7 1713.9 723.8 1714.7 722.6 C1715.5 721.5 1717.4 714.3 1718.5 713.8 C1719.6 713.2 1726.2 716.2 1727.4 716.3 C1728.5 716.4 1730.3 716.6 1731.1 715.0 C1731.9 713.5 1735.2 702.0 1736.2 698.6 C1737.2 695.2 1741.4 682.9 1742.5 677.2 C1743.6 671.4 1748.1 638.3 1748.8 634.2 C1749.5 630.1 1749.5 632.0 1750.1 631.6 C1750.7 631.1 1754.4 629.8 1755.2 629.0 C1756.0 628.2 1758.3 624.3 1758.9 622.7 C1759.6 621.1 1762.1 612.4 1762.7 611.4 C1763.4 610.3 1765.7 613.6 1766.5 611.4 C1767.3 609.1 1770.9 589.1 1771.6 586.1 C1772.3 583.1 1773.5 579.1 1774.1 578.5 C1774.7 578.0 1777.0 578.2 1777.9 579.8 C1778.8 581.4 1783.3 595.2 1784.2 596.2 C1785.1 597.2 1787.3 591.7 1788.0 591.1 C1788.7 590.6 1791.1 590.7 1791.8 589.9 C1792.5 589.1 1794.9 584.7 1795.6 582.3 C1796.3 579.9 1798.7 566.9 1799.4 563.4 C1800.0 559.8 1802.5 544.6 1803.2 543.2 C1803.8 541.7 1806.1 545.4 1806.9 546.9 C1807.7 548.5 1811.1 559.6 1812.0 560.8 C1812.9 562.1 1816.0 561.4 1817.0 560.8 C1818.1 560.3 1822.3 555.3 1823.4 554.5 C1824.4 553.7 1827.5 553.8 1828.4 552.0 C1829.3 550.2 1832.7 535.3 1833.5 534.3 C1834.3 533.3 1836.6 538.1 1837.3 540.6 C1837.9 543.1 1840.1 559.5 1841.0 562.1 C1842.0 564.7 1846.1 565.6 1847.4 569.7 C1848.6 573.8 1853.8 603.7 1854.9 607.6 C1856.1 611.4 1859.2 610.7 1860.0 612.6 C1860.8 614.6 1863.0 625.1 1863.8 629.0 C1864.6 633.0 1867.9 651.8 1868.8 656.8 C1869.7 661.8 1872.7 682.5 1873.9 684.6 C1875.0 686.8 1880.4 682.4 1881.5 680.8 C1882.5 679.2 1884.5 669.9 1885.3 666.9 C1886.0 664.0 1889.5 649.4 1890.3 648.0 C1891.1 646.6 1893.2 649.3 1894.1 651.8 C1895.0 654.3 1899.3 673.2 1900.4 675.8 C1901.5 678.4 1905.7 679.6 1906.7 680.8 C1907.7 682.1 1910.6 691.0 1911.8 689.7 C1912.9 688.3 1918.3 667.6 1919.4 665.7 C1920.4 663.7 1922.5 666.4 1923.1 668.2 C1923.8 670.0 1925.9 684.2 1926.9 685.9 C1928.0 687.6 1933.5 686.1 1934.5 687.1 C1935.5 688.2 1937.4 696.6 1938.3 697.2 C1939.2 697.9 1943.6 697.0 1944.6 694.7 C1945.6 692.4 1948.8 673.7 1949.7 672.0 C1950.6 670.3 1954.0 674.6 1954.7 675.8 C1955.4 676.9 1956.6 683.9 1957.2 684.6 C1957.9 685.3 1961.3 683.6 1962.3 683.4 C1963.3 683.1 1967.6 683.8 1968.6 682.1 C1969.6 680.4 1972.6 668.4 1973.7 664.4 C1974.7 660.4 1978.8 641.4 1980.0 637.9 C1981.1 634.4 1985.3 627.4 1986.3 625.3 C1987.3 623.1 1989.6 616.8 1990.6 613.8 C1991.6 610.8 1996.4 595.4 1997.6 591.5 C1998.7 587.6 2002.1 574.5 2003.1 570.6 C2004.1 566.7 2008.0 550.6 2008.7 548.3 C2009.5 546.0 2010.7 546.3 2011.5 545.5 C2012.3 544.8 2016.2 541.3 2017.1 539.9 C2018.0 538.6 2020.8 531.1 2021.3 530.2 C2021.7 529.2 2021.9 529.5 2022.0 529.5" fill="none" stroke="#F3BF38" stroke-width="4.8" stroke-linejoin="round" stroke-linecap="round"/>
<text x="73.5" y="888.10" text-anchor="end" font-size="35" textLength="19.0" lengthAdjust="spacingAndGlyphs">0</text>
<text x="73.5" y="806.10" text-anchor="end" font-size="35" textLength="57.0" lengthAdjust="spacingAndGlyphs">100</text>
<text x="73.5" y="723.50" text-anchor="end" font-size="35" textLength="57.0" lengthAdjust="spacingAndGlyphs">200</text>
<text x="73.5" y="639.10" text-anchor="end" font-size="35" textLength="57.0" lengthAdjust="spacingAndGlyphs">300</text>
<text x="73.5" y="556.70" text-anchor="end" font-size="35" textLength="57.0" lengthAdjust="spacingAndGlyphs">400</text>
<text x="73.5" y="474.70" text-anchor="end" font-size="35" textLength="57.0" lengthAdjust="spacingAndGlyphs">500</text>
<text x="73.5" y="391.90" text-anchor="end" font-size="35" textLength="57.0" lengthAdjust="spacingAndGlyphs">600</text>
<text x="73.5" y="309.80" text-anchor="end" font-size="35" textLength="57.0" lengthAdjust="spacingAndGlyphs">700</text>
<text x="73.5" y="227.50" text-anchor="end" font-size="35" textLength="57.0" lengthAdjust="spacingAndGlyphs">800</text>
<text x="73.5" y="145.00" text-anchor="end" font-size="35" textLength="57.0" lengthAdjust="spacingAndGlyphs">900</text>
<text transform="translate(117.06 918.00) rotate(-45)" text-anchor="end" font-size="30">15 March</text>
<text transform="translate(182.88 918.00) rotate(-45)" text-anchor="end" font-size="30">31 March</text>
<text transform="translate(244.58 918.00) rotate(-45)" text-anchor="end" font-size="30">15 April</text>
<text transform="translate(306.29 918.00) rotate(-45)" text-anchor="end" font-size="30">30 April</text>
<text transform="translate(367.99 918.00) rotate(-45)" text-anchor="end" font-size="30">15 May</text>
<text transform="translate(433.81 918.00) rotate(-45)" text-anchor="end" font-size="30">31 May</text>
<text transform="translate(495.52 918.00) rotate(-45)" text-anchor="end" font-size="30">15 June</text>
<text transform="translate(557.23 918.00) rotate(-45)" text-anchor="end" font-size="30">30 June</text>
<text transform="translate(618.93 918.00) rotate(-45)" text-anchor="end" font-size="30">15 July</text>
<text transform="translate(684.75 918.00) rotate(-45)" text-anchor="end" font-size="30">31 July</text>
<text transform="translate(746.46 918.00) rotate(-45)" text-anchor="end" font-size="30">15 August</text>
<text transform="translate(812.28 918.00) rotate(-45)" text-anchor="end" font-size="30">31 August</text>
<text transform="translate(873.98 918.00) rotate(-45)" text-anchor="end" font-size="30">15 September</text>
<text transform="translate(935.69 918.00) rotate(-45)" text-anchor="end" font-size="30">30 September</text>
<text transform="translate(997.40 918.00) rotate(-45)" text-anchor="end" font-size="30">15 October</text>
<text transform="translate(1063.22 918.00) rotate(-45)" text-anchor="end" font-size="30">31 October</text>
<text transform="translate(1124.92 918.00) rotate(-45)" text-anchor="end" font-size="30">15 November</text>
<text transform="translate(1186.63 918.00) rotate(-45)" text-anchor="end" font-size="30">30 November</text>
<text transform="translate(1248.33 918.00) rotate(-45)" text-anchor="end" font-size="30">15 December</text>
<text transform="translate(1314.15 918.00) rotate(-45)" text-anchor="end" font-size="30">31 December</text>
<text transform="translate(1375.86 918.00) rotate(-45)" text-anchor="end" font-size="30">15 January</text>
<text transform="translate(1441.68 918.00) rotate(-45)" text-anchor="end" font-size="30">31 January</text>
<text transform="translate(1503.39 918.00) rotate(-45)" text-anchor="end" font-size="30">15 February</text>
<text transform="translate(1560.98 918.00) rotate(-45)" text-anchor="end" font-size="30">1 March</text>
<text transform="translate(1618.57 918.00) rotate(-45)" text-anchor="end" font-size="30">15 March</text>
<text transform="translate(1684.39 918.00) rotate(-45)" text-anchor="end" font-size="30">31 March</text>
<text transform="translate(1746.10 918.00) rotate(-45)" text-anchor="end" font-size="30">15 April</text>
<text transform="translate(1807.80 918.00) rotate(-45)" text-anchor="end" font-size="30">30 April</text>
<text transform="translate(1869.51 918.00) rotate(-45)" text-anchor="end" font-size="30">15 May</text>
<text transform="translate(1935.33 918.00) rotate(-45)" text-anchor="end" font-size="30">31 May</text>
<text transform="translate(2001.15 918.00) rotate(-45)" text-anchor="end" font-size="30">16 June</text>
<text transform="translate(2029.94 918.00) rotate(-45)" text-anchor="end" font-size="30">23 June</text>
<text x="522" y="69.5" font-size="50" textLength="1025" lengthAdjust="spacingAndGlyphs">Confirmed new cases: 5-day moving average</text>
<rect x="553" y="1106" width="83" height="23.5" fill="#F8E5D8"/>
<text x="645" y="1129" font-size="34" textLength="395" lengthAdjust="spacingAndGlyphs">Daily confirmed new cases</text>
<line x1="1109.5" y1="1118" x2="1192" y2="1118" stroke="#F3BF38" stroke-width="4.8"/>
<text x="1200" y="1129" font-size="34" textLength="323.5" lengthAdjust="spacingAndGlyphs">5-day moving average</text>
</g>
</svg></body></html>
